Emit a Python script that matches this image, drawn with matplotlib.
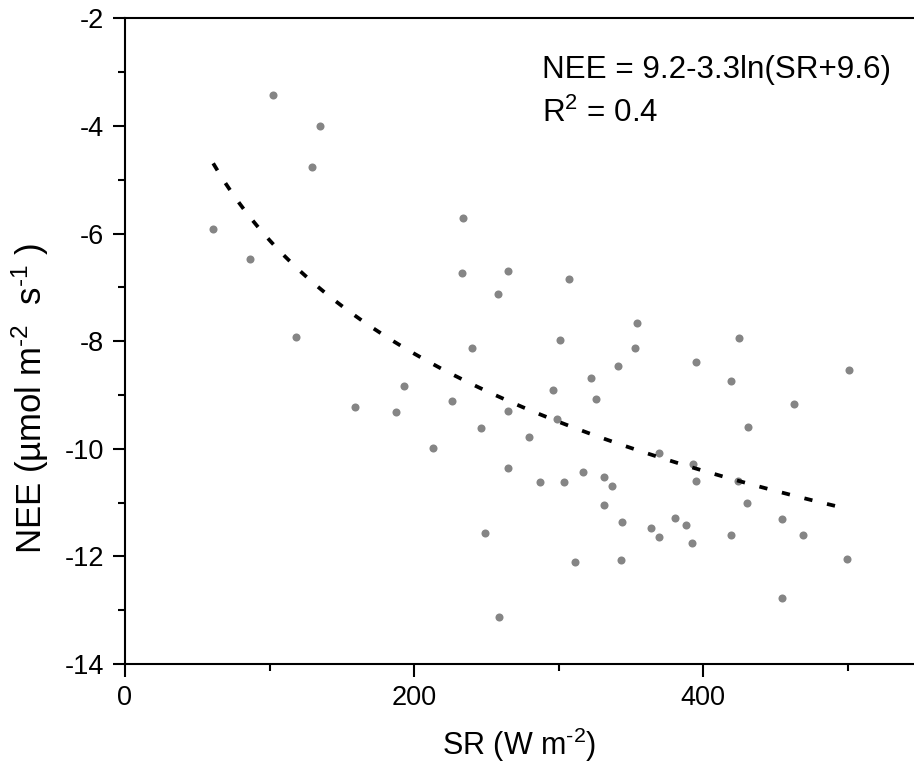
import numpy as np
import matplotlib
matplotlib.use("Agg")
import matplotlib.pyplot as plt
from matplotlib.ticker import MultipleLocator

plt.rcParams['font.family'] = ['Liberation Sans', 'DejaVu Sans']
plt.rcParams['mathtext.fontset'] = 'custom'
plt.rcParams['mathtext.rm'] = 'Liberation Sans'
plt.rcParams['mathtext.it'] = 'Liberation Sans'
plt.rcParams['mathtext.default'] = 'regular'
plt.rcParams['axes.unicode_minus'] = False

# Observations (SR in W m-2, NEE in umol m-2 s-1)
sr = [102.4, 134.9, 129.6, 61.1, 86.5, 233.5, 233.0, 258.2, 118.3, 240.2, 264.6, 306.8,
      193.0, 159.0, 187.4, 225.9, 265.0, 246.0, 279.2, 213.3, 264.6, 287.0, 249.0, 258.9,
      354.1, 300.6, 424.9, 352.9, 340.7, 395.0, 322.3, 419.3, 500.7, 296.2, 325.5, 462.8,
      299.0, 430.7, 369.3, 393.0, 303.6, 316.5, 331.3, 336.6, 395.0, 423.7, 429.9, 331.0,
      343.7, 363.8, 380.6, 388.0, 369.6, 392.1, 418.9, 454.4, 469.2, 311.0, 343.1, 499.6,
      454.4]
nee = [-3.42, -4.01, -4.77, -5.91, -6.48, -5.72, -6.73, -7.13, -7.92, -8.13, -6.70, -6.85,
       -8.84, -9.23, -9.32, -9.12, -9.30, -9.62, -9.79, -9.99, -10.35, -10.61, -11.57, -13.12,
       -7.67, -7.98, -7.94, -8.12, -8.47, -8.38, -8.69, -8.74, -8.54, -8.91, -9.08, -9.17,
       -9.44, -9.59, -10.08, -10.29, -10.61, -10.43, -10.53, -10.69, -10.60, -10.60, -11.01, -11.04,
       -11.36, -11.47, -11.29, -11.42, -11.64, -11.76, -11.60, -11.30, -11.60, -12.11, -12.06, -12.05,
       -12.78]

# Logarithmic fit NEE = a - b*ln(SR + c)
fit_a, fit_b, fit_c = 9.14, 3.25, 9.6
fit_range = [61.0, 500.0]

x_ticks = [0, 200, 400]
y_ticks = [-14, -12, -10, -8, -6, -4, -2]

W, H = 914, 774
fig = plt.figure(figsize=(W / 100, H / 100), dpi=100)
ax = fig.add_axes([125 / W, 1 - 664 / H, (W - 125) / W, (664 - 18.3) / H])

ax.plot(sr, nee, 'o', color='#858585', markersize=5.8, markeredgewidth=0, zorder=2)

xf = np.linspace(fit_range[0], fit_range[1], 300)
yf = fit_a - fit_b * np.log(xf + fit_c)
ax.plot(xf, yf, color='black', linewidth=2.7, linestyle=(0, (2.2, 4.0)), zorder=3)

ax.set_xlim(0, 545.7)
ax.set_ylim(-14, -2)
ax.set_xticks(x_ticks)
ax.set_yticks(y_ticks)
ax.xaxis.set_minor_locator(MultipleLocator(100))
ax.yaxis.set_minor_locator(MultipleLocator(1))

for s in ['left', 'bottom', 'top']:
    ax.spines[s].set_linewidth(1.5)
ax.spines['right'].set_visible(False)
ax.tick_params(which='major', direction='out', length=9, width=1.5, labelsize=19.5, pad=6)
ax.tick_params(which='minor', direction='out', length=5, width=1.5)
ax.tick_params(top=False, right=False, which='both')

ax.set_xlabel(r'SR (W m$^{\text{-}2}$)', fontsize=22, labelpad=11)
ax.set_ylabel(r'NEE (µmol m$^{\text{-}2}$  s$^{\text{-}1}$ )', fontsize=25)
ax.yaxis.set_label_coords(-0.094, 0.411)

ax.text(0.528, 0.908, 'NEE = 9.2-3.3ln(SR+9.6)', transform=ax.transAxes,
        fontsize=22.6, va='baseline', ha='left')
ax.text(0.528, 0.840, 'R$^{2}$ = 0.4', transform=ax.transAxes,
        fontsize=22.6, va='baseline', ha='left')

fig.savefig('out.png', dpi=100)
